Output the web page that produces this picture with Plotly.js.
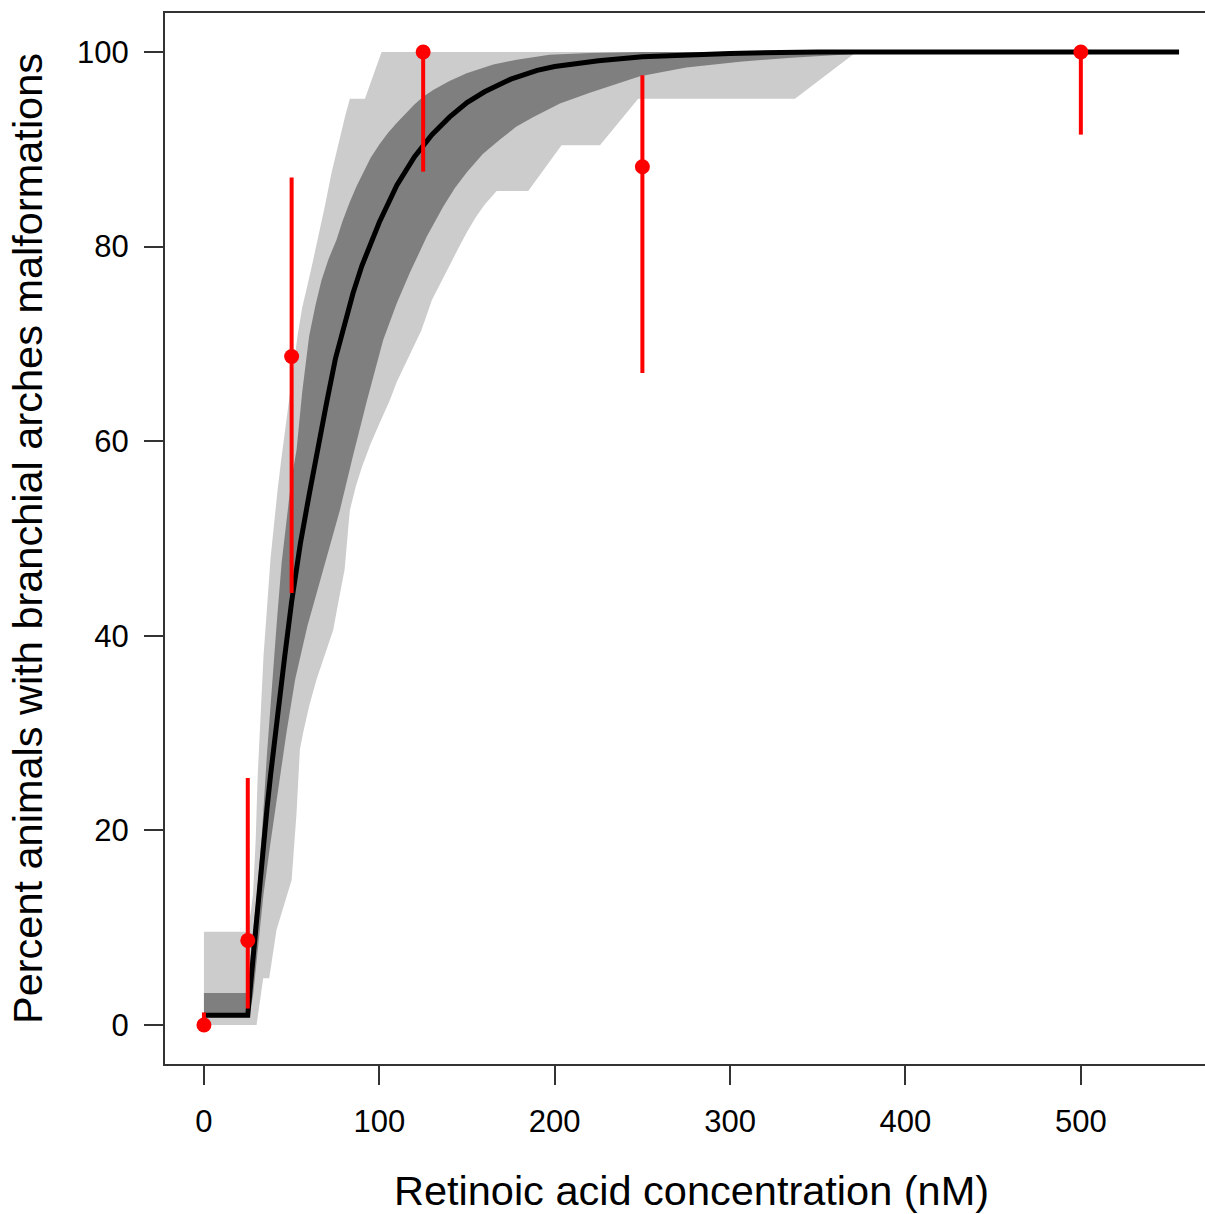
<!DOCTYPE html>
<html>
<head>
<meta charset="utf-8">
<script src="https://cdn.plot.ly/plotly-3.0.1.min.js"></script>
<style>
  html, body { margin: 0; padding: 0; overflow: hidden; background: #fff; }
  #chart { width: 1230px; height: 1214px; }
</style>
</head>
<body>
<div id="chart"></div>
<script>
// Observed data (percent malformed) with confidence limits
const doseX = [0, 25, 50, 125, 250, 500];
const pctObs = [0, 8.7, 68.7, 100, 88.2, 100];
const ciUpper = [1.3, 25.4, 87.1, 100, 97.6, 100];
const ciLower = [0, 1.7, 44.4, 87.7, 67.0, 91.5];

// Fitted dose-response curve
const fitX = [0, 25, 26, 27, 28, 29, 30, 32, 34, 36, 38, 40, 43, 46, 50, 55, 60, 65, 70, 75, 80, 85, 90, 95, 100, 110, 120, 130, 140, 150, 160, 175, 190, 200, 225, 250, 275, 300, 350, 400, 556];
const fitY = [1, 1, 3, 5, 7.5, 9.5, 11.5, 15.2, 18.8, 22.3, 25.7, 29, 33.5, 37.8, 43.5, 49.5, 54.5, 59.5, 64, 68.5, 72, 75.2, 78, 80.4, 82.5, 86.3, 89.2, 91.5, 93.3, 94.8, 95.9, 97.2, 98.1, 98.5, 99.1, 99.5, 99.7, 99.85, 100, 100, 100];

// Outer (light) band
const lightHiX = [0, 25, 27, 28, 29.5, 30.6, 32, 32.9, 34, 35.5, 37, 38, 40, 42, 44, 46, 48, 50, 52, 53.5, 56, 59, 62, 65, 69, 72.8, 75.5, 78, 80.5, 83.2, 91.8, 101.3, 556];
const lightHiY = [9.6, 9.6, 12, 13.5, 19, 25.4, 30.5, 34, 38, 42, 45.5, 48, 51.8, 55, 58, 60.5, 63.3, 66, 69, 71, 73.7, 76, 78.4, 80.7, 84.2, 87.6, 89.6, 91.5, 93.4, 95.2, 95.2, 100, 100];
const lightLoX = [0, 30, 33.8, 37.2, 41.4, 50, 52.8, 54.7, 56.5, 60, 64.2, 69, 73.7, 77, 80.2, 83.2, 86.5, 90, 95, 100, 106, 110, 115, 120, 124, 130, 135, 140, 145, 150, 155, 160, 166.9, 184.9, 203.9, 225.8, 247.6, 337, 368.3, 372, 556];
const lightLoY = [0, 0, 4.8, 4.8, 9.8, 14.9, 21.8, 28.3, 30, 32.8, 35.5, 38.2, 40.6, 43.8, 46.8, 52.9, 55.3, 57.3, 59.7, 61.8, 64.2, 66.1, 68, 70, 71.4, 74.5, 76.3, 78, 79.8, 81.5, 83, 84.3, 85.7, 85.7, 90.4, 90.4, 95.2, 95.2, 99.5, 100, 100];

// Inner (dark) band
const darkHiX = [0, 25, 27, 30, 33, 36, 38.6, 41.5, 44.3, 46.5, 48.5, 50.5, 52.8, 56, 60, 63.5, 67, 71, 75.6, 79, 83, 87, 90.8, 95, 100, 105, 109.9, 115, 120, 125, 130.7, 140, 149.8, 165, 178.3, 197, 220, 250, 556];
const darkHiY = [3.3, 3.3, 8, 13, 19.5, 28, 34.4, 41.3, 47.5, 51, 54, 56.7, 59.1, 65, 70.8, 73.9, 76.5, 78.7, 80.7, 82.6, 84.5, 86.2, 87.6, 89.1, 90.5, 91.7, 92.7, 93.7, 94.6, 95.4, 96.1, 97.0, 97.8, 98.7, 99.2, 99.7, 99.9, 100, 100];
const darkLoX = [0, 25.5, 28, 31, 34, 37.6, 42, 47, 52, 59, 66, 70, 77.5, 85, 93, 102.2, 110, 117.4, 127, 136.4, 143, 149.8, 159, 168.8, 178, 187.6, 203, 220, 235, 248.6, 275, 305.6, 335, 362.6, 390, 556];
const darkLoY = [0.8, 0.8, 3, 8, 13.5, 18.3, 24, 30, 35.5, 41, 45.5, 48, 52.9, 58.5, 64.2, 70.4, 74.2, 77.3, 81, 84.1, 86, 87.6, 89.5, 91, 92.3, 93.3, 94.7, 95.8, 96.7, 97.5, 98.4, 99, 99.4, 99.7, 100, 100];

const xTicks = [0, 100, 200, 300, 400, 500];
const yTicks = [0, 20, 40, 60, 80, 100];

function polygon(loX, loY, hiX, hiY) {
  return {
    x: loX.concat(hiX.slice().reverse()),
    y: loY.concat(hiY.slice().reverse())
  };
}
const lightPoly = polygon(lightLoX, lightLoY, lightHiX, lightHiY);
const darkPoly = polygon(darkLoX, darkLoY, darkHiX, darkHiY);

const traces = [
  { type: 'scatter', mode: 'lines', x: lightPoly.x, y: lightPoly.y, fill: 'toself',
    fillcolor: '#CCCCCC', line: { width: 0, color: 'rgba(0,0,0,0)' }, hoverinfo: 'skip' },
  { type: 'scatter', mode: 'lines', x: darkPoly.x, y: darkPoly.y, fill: 'toself',
    fillcolor: '#7F7F7F', line: { width: 0, color: 'rgba(0,0,0,0)' }, hoverinfo: 'skip' },
  { type: 'scatter', mode: 'lines', x: fitX, y: fitY,
    line: { color: '#000000', width: 5, shape: 'linear' } },
  { type: 'scatter', mode: 'markers', x: doseX, y: pctObs,
    marker: { color: '#FF0000', size: 15 },
    error_y: { type: 'data', symmetric: false,
      array: ciUpper.map((u, i) => u - pctObs[i]),
      arrayminus: ciLower.map((l, i) => pctObs[i] - l),
      color: '#FF0000', thickness: 4, width: 0 } }
];

const axisCommon = {
  ticks: 'outside', ticklen: 19, tickwidth: 2, tickcolor: '#333333',
  showline: true, mirror: true, linecolor: '#333333', linewidth: 2,
  showgrid: false, zeroline: false,
  tickfont: { size: 31, color: '#000000' }
};

const layout = {
  width: 1230, height: 1214,
  margin: { l: 165, r: 12, t: 13, b: 150 },
  paper_bgcolor: '#ffffff', plot_bgcolor: '#ffffff',
  showlegend: false,
  font: { family: '"Liberation Sans", Arial, sans-serif', color: '#000000' },
  xaxis: Object.assign({}, axisCommon, {
    range: [-22.2, 578.2], tickvals: xTicks, ticktext: xTicks.map(String),
    ticklabelstandoff: 10,
    title: { text: 'Retinoic acid concentration (nM)', font: { size: 41.5 }, standoff: 40 },
    automargin: false
  }),
  yaxis: Object.assign({}, axisCommon, {
    range: [-4, 104], tickvals: yTicks, ticktext: yTicks.map(String),
    ticklabelstandoff: 9,
    title: { text: 'Percent animals with branchial arches malformations', font: { size: 41.5 }, standoff: 22 },
    automargin: false
  })
};

Plotly.newPlot('chart', traces, layout, { displayModeBar: false, staticPlot: true });
</script>
</body>
</html>
